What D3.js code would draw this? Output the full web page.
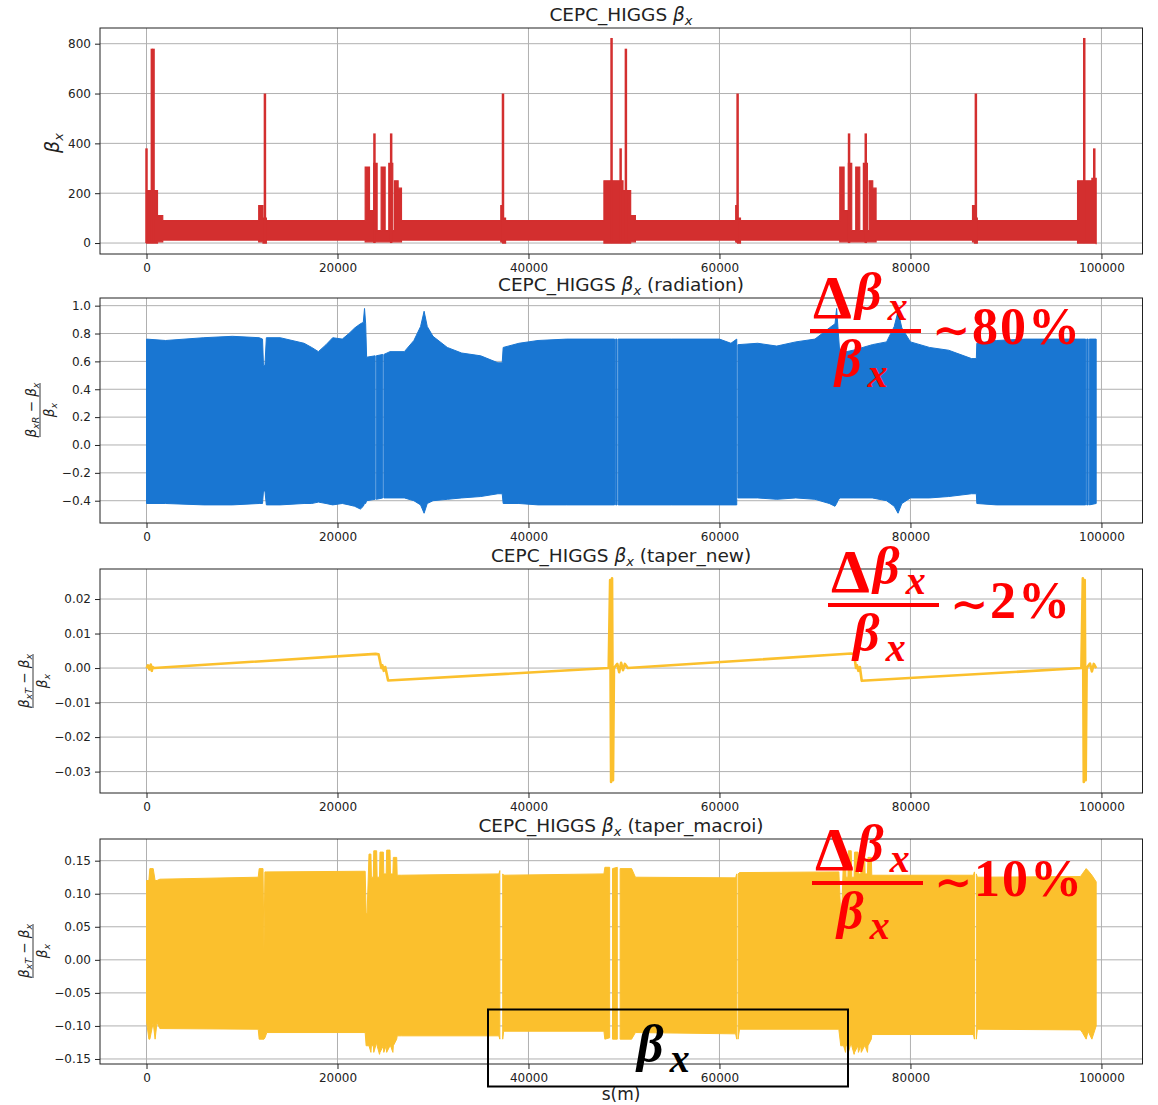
<!DOCTYPE html>
<html>
<head>
<meta charset="utf-8">
<script src="https://cdn.jsdelivr.net/npm/d3@7"></script>
<style>
  body { margin: 0; background: #fff; }
  svg text { font-family: "DejaVu Sans", sans-serif; white-space: pre; }
</style>
</head>
<body>
<svg id="chart" width="1158" height="1105"></svg>
<script>
// ---------- values ----------
var sTicks = [0, 20000, 40000, 60000, 80000, 100000];

// panel 1 : beta_x, band edges (each entry starts a step) + narrow peaks
var betaS  = [0, 1150, 1700, 11750, 12200, 12550, 22900, 23350, 23800, 24150, 24570, 24990, 25370, 25790, 25970, 26350,
              26700, 37100, 37300, 37600, 47900, 49900, 50700, 51200, 61700, 61900, 62200,
              72600, 73050, 73500, 73850, 74270, 74690, 75070, 75490, 75670, 76050,
              76400, 86500, 86700, 87000, 97500, 99000, 99450];
var betaHi = [210, 110, 90, 150, 100, 90, 305, 130, 320, 50, 305, 50, 320, 50, 250, 220,
              90, 150, 100, 90, 250, 210, 110, 90, 150, 100, 90,
              305, 130, 320, 50, 305, 50, 320, 50, 250, 220,
              90, 150, 100, 90, 250, 260, 260];
var betaLo = [0, 5, 12, 5, 0, 12, 5, 5, 5, 5, 5, 5, 5, 5, 5, 5,
              12, 5, 0, 12, 0, 0, 5, 12, 5, 0, 12,
              5, 5, 5, 5, 5, 5, 5, 5, 5, 5,
              12, 5, 0, 12, 0, 0, -5];
var peakS   = [0, 560, 740, 12400, 23870, 25620, 37330, 48700, 49650, 50200, 61900, 73570, 75320, 86850, 98200, 99250];
var peakTop = [380, 780, 780, 600, 440, 440, 600, 823, 380, 780, 600, 440, 440, 600, 823, 380];
var betaTicks = [0, 200, 400, 600, 800];

// panel 2 : radiation, band edges (null = gap)
var radS  = [0, 2000, 6000, 9000, 11800, 12150, 12250, 12400, 12550, 14000,
             16500, 17300, 18000, 18800, 19500, 20500, 21200, 21800, 22400, 22700,
             22830, 22950, 23050, 23940, 24000, 24060, 24740, 24800, 24860, 25500,
             27000, 28000, 28700, 29070, 29400, 30000, 31500, 33000, 35000, 36800,
             37250, 37350, 39000, 41000, 44000, 49010, 49070, 49130, 49270, 49330,
             49390, 55000, 60000, 61200, 61810, 61870, 61930, 64000, 66000, 68000,
             70000, 71500, 72100, 72270, 72400, 72600, 74000, 76000, 77500, 78300,
             78700, 79100, 80000, 82000, 84000, 86400, 86900, 86950, 89000, 92000,
             98340, 98400, 98460, 98610, 98670, 98730, 99450];
var radHi = [0.76, 0.75, 0.77, 0.78, 0.77, 0.76, 0.57, 0.57, 0.77, 0.77,
             0.73, 0.70, 0.67, 0.72, 0.77, 0.76, 0.80, 0.84, 0.87, 0.88,
             0.98, 0.87, 0.63, 0.64, null, 0.64, 0.65, null, 0.65, 0.67,
             0.67, 0.75, 0.85, 0.96, 0.85, 0.78, 0.70, 0.66, 0.64, 0.59,
             0.59, 0.70, 0.73, 0.75, 0.76, 0.76, null, 0.76, 0.76, null,
             0.76, 0.76, 0.76, 0.73, 0.76, null, 0.72, 0.73, 0.71, 0.74,
             0.76, 0.84, 0.87, 0.98, 0.85, 0.66, 0.68, 0.72, 0.74, 0.85,
             0.96, 0.84, 0.74, 0.70, 0.68, 0.62, 0.62, 0.73, 0.75, 0.76,
             0.76, null, 0.76, 0.76, null, 0.76, 0.76];
var radLo = [-0.42, -0.42, -0.43, -0.43, -0.42, -0.42, -0.33, -0.33, -0.43, -0.43,
             -0.42, -0.42, -0.41, -0.42, -0.43, -0.42, -0.43, -0.44, -0.46, -0.44,
             -0.42, -0.42, -0.40, -0.39, null, -0.39, -0.38, null, -0.38, -0.38,
             -0.38, -0.40, -0.43, -0.49, -0.42, -0.40, -0.39, -0.38, -0.37, -0.35,
             -0.35, -0.42, -0.42, -0.43, -0.43, -0.43, null, -0.43, -0.43, null,
             -0.43, -0.43, -0.43, -0.43, -0.43, null, -0.38, -0.38, -0.39, -0.38,
             -0.39, -0.42, -0.44, -0.42, -0.40, -0.38, -0.38, -0.38, -0.40, -0.44,
             -0.49, -0.42, -0.38, -0.38, -0.37, -0.35, -0.35, -0.42, -0.43, -0.43,
             -0.43, null, -0.43, -0.43, null, -0.43, -0.42];
var radTicks = [-0.4, -0.2, 0, 0.2, 0.4, 0.6, 0.8, 1.0];

// panel 3 : taper_new, single line
var newS = [0, 150, 300, 450, 550, 650, 800, 24000, 24300, 24600, 24700, 24850, 25000, 25300,
            48400, 48550, 48650, 48750, 48850, 48950, 49300, 49500, 49700, 49900, 50100, 50400,
            73800, 74100, 74300, 74400, 74550, 74700, 74900,
            97900, 98050, 98150, 98250, 98350, 98450, 98800, 99000, 99200, 99450];
var newV = [0, 0.0008, -0.0004, 0.0010, -0.0008, 0.0003, 0, 0.0041, 0.0040, 0, 0.0008, -0.0008, 0.0003, -0.0036,
            0, 0.0255, -0.033, 0.026, -0.0325, 0, 0.0012, -0.0012, 0.0015, -0.0006, 0.0012, 0,
            0.0042, 0.0040, 0, 0.0008, -0.0008, 0.0003, -0.0037,
            0, 0.026, -0.033, 0.0255, -0.0325, 0, 0.0013, -0.0010, 0.0012, 0];
var newTicks = [-0.03, -0.02, -0.01, 0, 0.01, 0.02];

// panel 4 : taper_macroi, band edges (null = gap)
var macS  = [0, 250, 350, 700, 900, 1100, 1400, 11700, 11800, 12200,
             12300, 12400, 12600, 22900, 23000, 23100, 23300, 23500, 23550, 23750,
             23800, 24100, 24150, 24400, 24450, 24800, 24850, 25100, 25150, 25500,
             25550, 25800, 25850, 26200, 26250, 26700, 36900, 37000, 37150, 37300,
             37400, 47900, 48000, 48500, 48650, 48800, 49300, 49450, 49600, 50800,
             51200, 61700, 61800, 61870, 61950, 62100, 72500, 72700, 72800, 73000,
             73200, 73250, 73450, 73500, 73800, 73850, 74100, 74150, 74500, 74550,
             74800, 74850, 75200, 75250, 75500, 75550, 75900, 75950, 76400, 86600,
             86700, 86800, 86900, 87000, 97800, 98000, 98400, 98600, 99000, 99450];
var macHi = [0.12, 0.12, 0.138, 0.138, 0.12, 0.12, 0.122, 0.125, 0.138, 0.138,
             0.015, 0.133, 0.133, 0.134, 0.07, 0.07, 0.16, 0.16, 0.125, 0.125,
             0.165, 0.165, 0.125, 0.125, 0.163, 0.163, 0.13, 0.13, 0.166, 0.166,
             0.13, 0.13, 0.155, 0.155, 0.128, 0.128, 0.13, 0.135, null, 0.13,
             0.128, 0.13, 0.14, 0.14, null, 0.138, 0.14, null, 0.138, 0.138,
             0.125, 0.124, 0.13, null, 0.13, 0.132, 0.133, 0.07, 0.07, 0.16,
             0.16, 0.125, 0.125, 0.165, 0.165, 0.125, 0.125, 0.163, 0.163, 0.13,
             0.13, 0.166, 0.166, 0.13, 0.13, 0.155, 0.155, 0.128, 0.128, 0.128,
             0.133, null, 0.13, 0.125, 0.126, 0.13, 0.138, 0.135, 0.128, 0.118];
var macLo = [-0.093, -0.12, -0.12, -0.095, -0.12, -0.095, -0.104, -0.105, -0.12, -0.12,
             -0.12, -0.118, -0.11, -0.11, -0.13, -0.13, -0.13, -0.14, -0.13, -0.13,
             -0.14, -0.125, -0.13, -0.143, -0.14, -0.13, -0.14, -0.13, -0.14, -0.13,
             -0.13, -0.14, -0.13, -0.12, -0.115, -0.115, -0.115, -0.12, null, -0.12,
             -0.108, -0.108, -0.12, -0.118, null, -0.12, -0.12, null, -0.12, -0.12,
             -0.11, -0.112, -0.12, null, -0.12, -0.105, -0.105, -0.13, -0.13, -0.13,
             -0.14, -0.13, -0.13, -0.14, -0.125, -0.13, -0.143, -0.14, -0.13, -0.14,
             -0.13, -0.14, -0.13, -0.13, -0.14, -0.13, -0.12, -0.113, -0.113, -0.113,
             -0.12, null, -0.12, -0.105, -0.106, -0.11, -0.12, -0.108, -0.12, -0.1];
var macTicks = [-0.15, -0.10, -0.05, 0, 0.05, 0.10, 0.15];

// ---------- drawing ----------
var svg = d3.select("#chart");
var ink = "#222";
var x = d3.scaleLinear().domain([-4870, 104300]).range([100, 1142.5]);

function rows(s, hi, lo) {
  return s.map(function (d, i) { return {s: d, hi: hi[i], lo: lo[i]}; });
}

// grid first, data on top, frame + ticks last
function makePanel(top, bottom, domain, ticks) {
  var y = d3.scaleLinear().domain(domain).range([bottom, top]);
  var grid = svg.append("g");
  grid.selectAll(".gv").data(sTicks).join("line")
    .attr("x1", function (d) { return x(d); }).attr("x2", function (d) { return x(d); })
    .attr("y1", top).attr("y2", bottom)
    .attr("stroke", "#b0b0b0").attr("stroke-width", 1);
  grid.selectAll(".gh").data(ticks).join("line")
    .attr("x1", 100).attr("x2", 1142.5)
    .attr("y1", function (d) { return y(d); }).attr("y2", function (d) { return y(d); })
    .attr("stroke", "#b0b0b0").attr("stroke-width", 1);
  return {y: y, top: top, bottom: bottom, ticks: ticks};
}

function finishPanel(p, fmt) {
  svg.append("rect").attr("x", 100).attr("y", p.top)
    .attr("width", 1042.5).attr("height", p.bottom - p.top)
    .attr("fill", "none").attr("stroke", ink).attr("stroke-width", 1);
  svg.append("g").attr("transform", "translate(0," + p.bottom + ")")
    .call(d3.axisBottom(x).tickValues(sTicks).tickFormat(d3.format("d")).tickSize(5).tickPadding(4))
    .call(function (a) { a.select(".domain").remove(); })
    .attr("font-family", "DejaVu Sans").attr("font-size", 12).attr("color", ink);
  svg.append("g").attr("transform", "translate(100,0)")
    .call(d3.axisLeft(p.y).tickValues(p.ticks).tickFormat(fmt).tickSize(5).tickPadding(4))
    .call(function (a) { a.select(".domain").remove(); })
    .attr("font-family", "DejaVu Sans").attr("font-size", 12).attr("color", ink);
}

function title(yb, extra) {
  var t = svg.append("text").attr("x", 621).attr("y", yb)
    .attr("text-anchor", "middle").style("font-size", "18.5px").attr("fill", ink);
  t.append("tspan").text("CEPC_HIGGS ");
  t.append("tspan").style("font-style", "italic").text("β");
  t.append("tspan").attr("dy", 4).style("font-size", "13px").style("font-style", "italic").text("x");
  if (extra) t.append("tspan").attr("dy", -4).text(" " + extra);
}

function fracLabel(cx, cy, sub) {
  var g = svg.append("g").attr("transform", "translate(" + cx + "," + cy + ") rotate(-90)")
    .attr("fill", ink).style("font-size", "13.5px");
  var n = g.append("text").attr("text-anchor", "middle").attr("y", -4);
  n.append("tspan").style("font-style", "italic").text("β");
  n.append("tspan").attr("dy", 3).style("font-size", "9.5px").style("font-style", "italic").text("x" + sub);
  n.append("tspan").attr("dy", -3).text(" − ");
  n.append("tspan").style("font-style", "italic").text("β");
  n.append("tspan").attr("dy", 3).style("font-size", "9.5px").style("font-style", "italic").text("x");
  g.append("line").attr("x1", -27).attr("x2", 27).attr("y1", 0).attr("y2", 0)
    .attr("stroke", ink).attr("stroke-width", 0.9);
  var d = g.append("text").attr("text-anchor", "middle").attr("y", 14);
  d.append("tspan").style("font-style", "italic").text("β");
  d.append("tspan").attr("dy", 3).style("font-size", "9.5px").style("font-style", "italic").text("x");
}

function boldBeta(parent, px, py, color) {
  var t = parent.append("text").attr("x", px).attr("y", py).attr("fill", color)
    .style("font-family", "'Liberation Serif', serif").style("font-weight", "bold")
    .style("font-style", "italic").style("font-size", "52px");
  t.append("tspan").text("β");
  t.append("tspan").attr("dx", 6).attr("dy", 11).style("font-size", "40px").text("x");
}

function ratioNote(bx, by, pct) {
  var g = svg.append("g").attr("transform", "translate(" + bx + "," + by + ")");
  g.append("text").attr("x", 3).attr("y", -13).attr("fill", "#ff0000")
    .style("font-family", "'Liberation Serif', serif").style("font-weight", "bold")
    .style("font-size", "62px").text("Δ");
  boldBeta(g, 45, -22, "#ff0000");
  g.append("rect").attr("x", 0).attr("y", -2).attr("width", 111).attr("height", 4).attr("fill", "#ff0000");
  boldBeta(g, 25, 45, "#ff0000");
  g.append("text").attr("x", 122).attr("y", 15).attr("fill", "#ff0000")
    .style("font-family", "'DejaVu Serif', serif").style("font-weight", "bold")
    .style("font-size", "46px").text("∼");
  g.append("text").attr("x", 162).attr("y", 13).attr("fill", "#ff0000")
    .style("font-family", "'Liberation Serif', serif").style("font-weight", "bold")
    .style("font-size", "52px").style("letter-spacing", "2px").text(pct);
}

// ---- panel 1 ----
var p1 = makePanel(28, 254, [-44, 863], betaTicks);
svg.append("path").datum(rows(betaS, betaHi, betaLo))
  .attr("d", d3.area().curve(d3.curveStepAfter)
    .x(function (d) { return x(d.s); })
    .y0(function (d) { return p1.y(d.lo); })
    .y1(function (d) { return p1.y(d.hi); }))
  .attr("fill", "#d32f2f").attr("stroke", "#d32f2f").attr("stroke-width", 1.2);
svg.append("g").selectAll("line").data(peakS).join("line")
  .attr("x1", function (d) { return x(d); }).attr("x2", function (d) { return x(d); })
  .attr("y1", p1.y(0)).attr("y2", function (d, i) { return p1.y(peakTop[i]); })
  .attr("stroke", "#d32f2f").attr("stroke-width", 2.5);
finishPanel(p1, d3.format("d"));
title(21, null);
var yl = svg.append("text").attr("transform", "translate(59,143) rotate(-90)")
  .attr("text-anchor", "middle").attr("fill", ink).style("font-size", "19px");
yl.append("tspan").style("font-style", "italic").text("β");
yl.append("tspan").attr("dy", 4).style("font-size", "13px").style("font-style", "italic").text("x");

// ---- panel 2 ----
var p2 = makePanel(298, 523, [-0.56, 1.055], radTicks);
svg.append("path").datum(rows(radS, radHi, radLo))
  .attr("d", d3.area().defined(function (d) { return d.hi !== null; })
    .x(function (d) { return x(d.s); })
    .y0(function (d) { return p2.y(d.lo); })
    .y1(function (d) { return p2.y(d.hi); }))
  .attr("fill", "#1976d2").attr("stroke", "#1976d2").attr("stroke-width", 1);
finishPanel(p2, d3.format(".1f"));
title(291, "(radiation)");
fracLabel(40, 410, "R");

// ---- panel 3 ----
var p3 = makePanel(569, 793, [-0.0362, 0.0287], newTicks);
svg.append("path").datum(newS.map(function (d, i) { return {s: d, v: newV[i]}; }))
  .attr("d", d3.line().x(function (d) { return x(d.s); }).y(function (d) { return p3.y(d.v); }))
  .attr("fill", "none").attr("stroke", "#fbc02d").attr("stroke-width", 2.6)
  .attr("stroke-linejoin", "round");
finishPanel(p3, d3.format(".2f"));
title(562, "(taper_new)");
fracLabel(33, 681, "T");

// ---- panel 4 ----
var p4 = makePanel(839, 1064, [-0.1576, 0.1828], macTicks);
svg.append("path").datum(rows(macS, macHi, macLo))
  .attr("d", d3.area().defined(function (d) { return d.hi !== null; })
    .x(function (d) { return x(d.s); })
    .y0(function (d) { return p4.y(d.lo); })
    .y1(function (d) { return p4.y(d.hi); }))
  .attr("fill", "#fbc02d").attr("stroke", "#fbc02d").attr("stroke-width", 1);
finishPanel(p4, d3.format(".2f"));
title(832, "(taper_macroi)");
fracLabel(33, 951, "T");

svg.append("text").attr("x", 621).attr("y", 1100).attr("text-anchor", "middle")
  .attr("fill", ink).style("font-size", "17px").text("s(m)");

// ---- red notes and the boxed symbol ----
ratioNote(810, 331, "80%");
ratioNote(828, 605, "2%");
ratioNote(812, 883, "10%");

svg.append("rect").attr("x", 488).attr("y", 1009.5).attr("width", 360).attr("height", 77)
  .attr("fill", "none").attr("stroke", "#000").attr("stroke-width", 2);
boldBeta(svg, 637, 1061, "#000");
</script>
</body>
</html>
